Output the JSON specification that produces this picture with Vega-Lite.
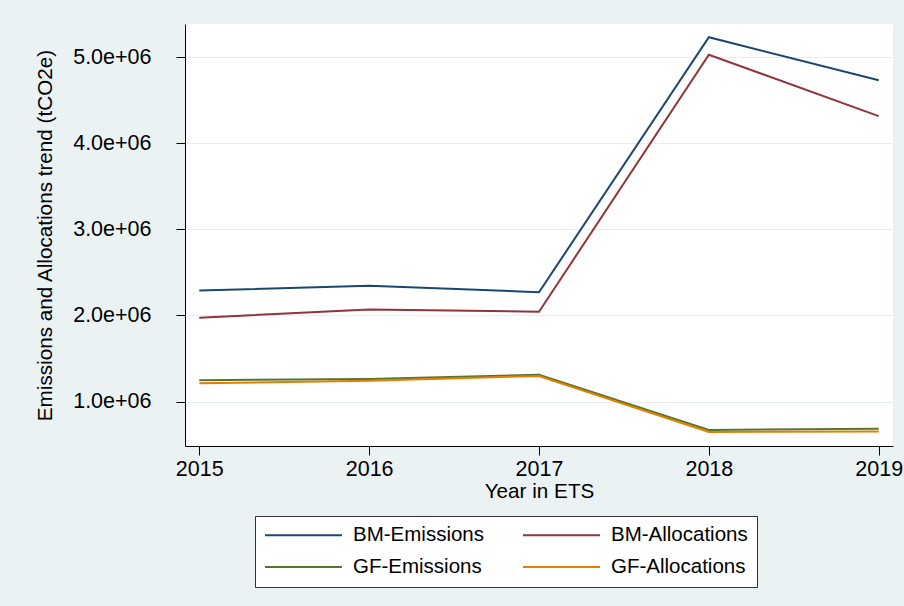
{
  "$schema": "https://vega.github.io/schema/vega-lite/v6.json",
  "width": 708,
  "height": 422,
  "autosize": {"type": "none"},
  "padding": {"left": 185, "top": 24, "right": 11, "bottom": 160},
  "background": "#eaf2f3",
  "config": {
    "font": "Liberation Sans",
    "view": {"fill": "white", "stroke": null},
    "axis": {
      "labelFont": "Liberation Sans",
      "titleFont": "Liberation Sans",
      "labelFontSize": 21.5,
      "titleFontSize": 20.7,
      "labelColor": "black",
      "titleColor": "black",
      "titleFontWeight": "normal",
      "domainColor": "black",
      "domainWidth": 1,
      "tickColor": "black",
      "tickWidth": 1,
      "tickSize": 9
    }
  },
  "data": {
    "values": [
      {"year": 2015, "series": "BM-Emissions", "value": 2290000},
      {"year": 2016, "series": "BM-Emissions", "value": 2345000},
      {"year": 2017, "series": "BM-Emissions", "value": 2270000},
      {"year": 2018, "series": "BM-Emissions", "value": 5233000},
      {"year": 2019, "series": "BM-Emissions", "value": 4733000},
      {"year": 2015, "series": "BM-Allocations", "value": 1973000},
      {"year": 2016, "series": "BM-Allocations", "value": 2070000},
      {"year": 2017, "series": "BM-Allocations", "value": 2043000},
      {"year": 2018, "series": "BM-Allocations", "value": 5030000},
      {"year": 2019, "series": "BM-Allocations", "value": 4317000},
      {"year": 2015, "series": "GF-Emissions", "value": 1247000},
      {"year": 2016, "series": "GF-Emissions", "value": 1262000},
      {"year": 2017, "series": "GF-Emissions", "value": 1310000},
      {"year": 2018, "series": "GF-Emissions", "value": 670000},
      {"year": 2019, "series": "GF-Emissions", "value": 684000},
      {"year": 2015, "series": "GF-Allocations", "value": 1212000},
      {"year": 2016, "series": "GF-Allocations", "value": 1240000},
      {"year": 2017, "series": "GF-Allocations", "value": 1297000},
      {"year": 2018, "series": "GF-Allocations", "value": 645000},
      {"year": 2019, "series": "GF-Allocations", "value": 652000}
    ]
  },
  "mark": {"type": "line", "strokeWidth": 2},
  "encoding": {
    "x": {
      "field": "year",
      "type": "quantitative",
      "title": "Year in ETS",
      "scale": {"domain": [2014.916, 2019.084], "nice": false, "zero": false},
      "axis": {
        "values": [2015, 2016, 2017, 2018, 2019],
        "format": "d",
        "grid": false,
        "labelPadding": 3,
        "titlePadding": 2,
        "labelFlush": false
      }
    },
    "y": {
      "field": "value",
      "type": "quantitative",
      "title": "Emissions and Allocations trend (tCO2e)",
      "scale": {"domain": [483000, 5387000], "nice": false, "zero": false},
      "axis": {
        "values": [1000000, 2000000, 3000000, 4000000, 5000000],
        "labelExpr": "replace(format(datum.value, '.1e'), 'e+', 'e+0')",
        "grid": true,
        "gridColor": "#e6eef0",
        "gridWidth": 1.2,
        "labelPadding": 25,
        "titlePadding": 17
      }
    },
    "color": {
      "field": "series",
      "type": "nominal",
      "sort": ["BM-Emissions", "BM-Allocations", "GF-Emissions", "GF-Allocations"],
      "scale": {
        "domain": ["BM-Emissions", "BM-Allocations", "GF-Emissions", "GF-Allocations"],
        "range": ["#1a476f", "#90353b", "#55752f", "#e37e00"]
      },
      "legend": {
        "orient": "none",
        "legendX": 70,
        "legendY": 492,
        "direction": "horizontal",
        "columns": 2,
        "title": null,
        "symbolType": "stroke",
        "symbolSize": 5929,
        "symbolStrokeWidth": 2,
        "labelFont": "Liberation Sans",
        "labelFontSize": 20.5,
        "labelColor": "black",
        "labelOffset": 10,
        "labelLimit": 300,
        "labelExpr": "indexof(datum.label, 'Allocations') >= 0 ? datum.label + '\u00a0\u00a0' : datum.label",
        "columnPadding": 38,
        "rowPadding": 11,
        "clipHeight": 20,
        "padding": 9,
        "strokeColor": "#333333",
        "fillColor": "white"
      }
    }
  }
}
